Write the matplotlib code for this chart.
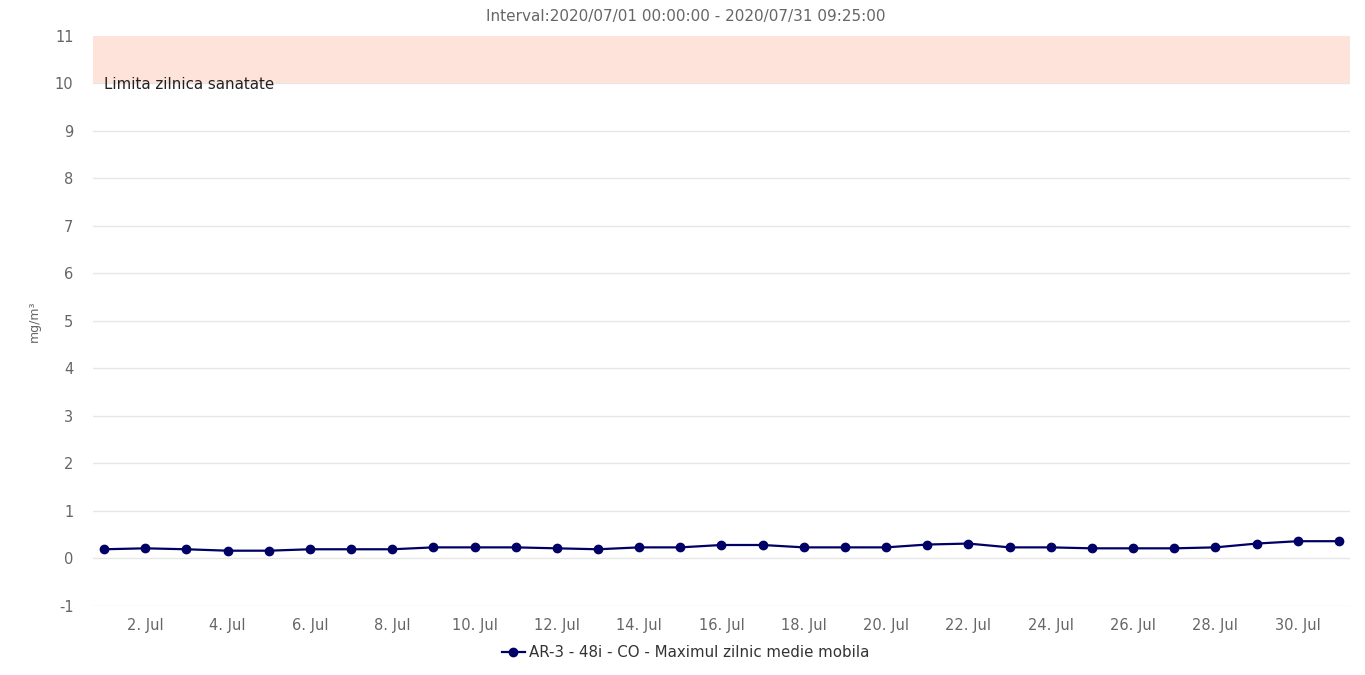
import matplotlib.pyplot as plt
from matplotlib.lines import Line2D

plt.rcParams['font.family'] = ['DejaVu Sans']
plt.rcParams['axes.unicode_minus'] = False

# date (ziua din iulie 2020) si valori CO
zile = list(range(1, 32))
valori = [0.19, 0.21, 0.19, 0.16, 0.16, 0.19, 0.19, 0.19, 0.23, 0.23,
          0.23, 0.21, 0.19, 0.23, 0.23, 0.28, 0.28, 0.23, 0.23, 0.23,
          0.29, 0.31, 0.23, 0.23, 0.21, 0.21, 0.21, 0.23, 0.31, 0.36, 0.36]
zile_tick = [2, 4, 6, 8, 10, 12, 14, 16, 18, 20, 22, 24, 26, 28, 30]
etichete_x = [f'{z}. Jul' for z in zile_tick]
y_ticks = list(range(-1, 12))
limita_jos, limita_sus = 10, 11

fig = plt.figure(figsize=(13.65, 6.75), dpi=100)
ax = fig.add_axes([0.0681, 0.1015, 0.9209, 0.8452])

# banda limita zilnica
ax.axhspan(limita_jos, limita_sus, color='#fde3d9', zorder=1, lw=0)
ax.text(0.99, limita_jos - 0.02, 'Limita zilnica sanatate', fontsize=10.8,
        color='#222222', va='center', ha='left', zorder=3)

ax.plot(zile, valori, color='#000066', lw=1.6, marker='o', markersize=6,
        zorder=4)

ax.set_xlim(0.73, 31.27)
ax.set_ylim(-1.015, 11)
ax.set_yticks(y_ticks)
ax.set_xticks(zile_tick)
ax.set_xticklabels(etichete_x)
ax.grid(axis='y', color='#e6e6e6', lw=1, zorder=0)
ax.set_axisbelow(True)
for s in ax.spines.values():
    s.set_visible(False)
ax.tick_params(axis='both', length=0, colors='#666666', labelsize=10.5)
ax.tick_params(axis='y', pad=14)
ax.tick_params(axis='x', pad=8)

ax.set_ylabel('mg/m³', color='#666666', fontsize=9, labelpad=10)

fig.text(0.5025, 0.975, 'Interval:2020/07/01 00:00:00 - 2020/07/31 09:25:00',
         ha='center', va='center', fontsize=11, color='#666666')

h = Line2D([], [], color='#000066', lw=1.6, marker='o', markersize=6)
fig.legend([h], ['AR-3 - 48i - CO - Maximul zilnic medie mobila'],
           loc='center', bbox_to_anchor=(0.5025, 0.033), frameon=False,
           fontsize=10.8, labelcolor='#333333', handlelength=1.5,
           handletextpad=0.3)

fig.savefig('out.png', dpi=100)
